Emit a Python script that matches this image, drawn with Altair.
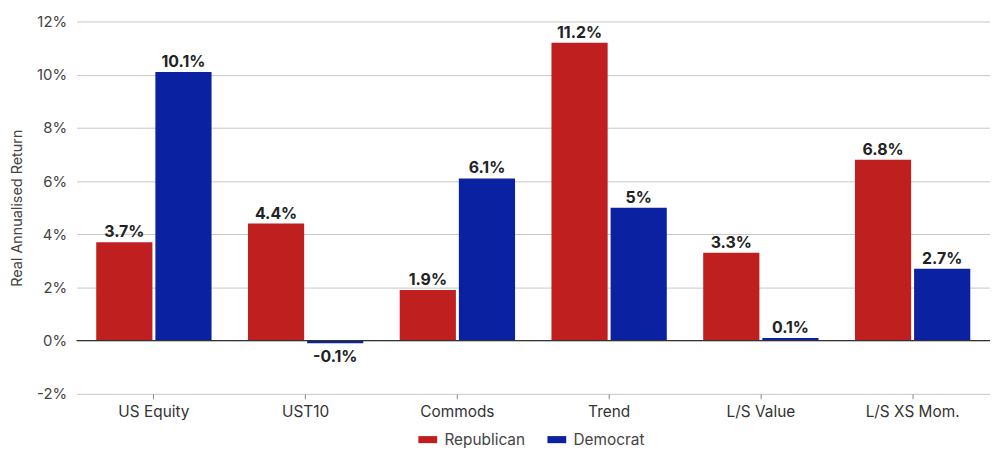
import altair as alt
import pandas as pd

categories = ["US Equity", "UST10", "Commods", "Trend", "L/S Value", "L/S XS Mom."]
republican = [3.7, 4.4, 1.9, 11.2, 3.3, 6.8]
democrat = [10.1, -0.1, 6.1, 5, 0.1, 2.7]
parties = ["Republican", "Democrat"]
colors = ["#C01F20", "#0A22A2"]
y_ticks = [-2, 0, 2, 4, 6, 8, 10, 12]

rows = []
for c, r, d in zip(categories, republican, democrat):
    rows.append({"cat": c, "party": "Republican", "value": r})
    rows.append({"cat": c, "party": "Democrat", "value": d})
df = pd.DataFrame(rows)

FONT = "Inter"

x = alt.X("cat:N", sort=categories, title=None,
          scale=alt.Scale(paddingInner=0.24, paddingOuter=0.13),
          axis=alt.Axis(labelAngle=0, labelFontSize=15.5, labelColor="#333333",
                        labelPadding=6, ticks=True, tickSize=5, tickColor="#888888",
                        domain=False, labelFont=FONT))
xo = alt.XOffset("party:N", sort=parties, scale=alt.Scale(paddingInner=0.05))
y = alt.Y("value:Q", title="Real Annualised Return",
          scale=alt.Scale(domain=[-2, 12], nice=False),
          axis=alt.Axis(values=y_ticks, labelExpr="datum.value + '%'",
                        labelFontSize=15, labelColor="#444444", labelPadding=10,
                        ticks=False, domain=False, gridColor="#C8C8C8",
                        titleFontSize=14.5, titleFontWeight="normal", titleColor="#444444",
                        titlePadding=12, labelFont=FONT, titleFont=FONT))

base = alt.Chart(df)

bars = base.mark_bar().encode(
    x=x, xOffset=xo, y=y,
    color=alt.Color("party:N", sort=parties,
                    scale=alt.Scale(domain=parties, range=colors),
                    legend=alt.Legend(title=None, orient="none", direction="horizontal",
                                      legendX=346, legendY=413,
                                      symbolType="M-1.6,-0.6H1.6V0.6H-1.6Z",
                                      symbolSize=140, symbolStrokeWidth=0,
                                      labelFontSize=15.5, labelColor="#444444",
                                      labelFont=FONT, columnPadding=22, labelOffset=9)),
)

pos_text = base.transform_filter("datum.value >= 0").transform_calculate(
    label="datum.value + '%'").mark_text(
    baseline="alphabetic", dy=-5, fontSize=16, fontWeight="bold", color="#222222", font=FONT
).encode(x=x, xOffset=xo, y=y, text="label:N")

neg_text = base.transform_filter("datum.value < 0").transform_calculate(
    label="datum.value + '%'").mark_text(
    baseline="top", dy=6, fontSize=16, fontWeight="bold", color="#222222", font=FONT
).encode(x=x, xOffset=xo, y=y, text="label:N")

zero = alt.Chart(pd.DataFrame({"z": [0]})).mark_rule(color="#333333", strokeWidth=1.2).encode(
    y=alt.Y("z:Q", scale=alt.Scale(domain=[-2, 12], nice=False)))

chart = alt.layer(bars, zero, pos_text, neg_text).properties(
    width=920, height=375,
    autosize=alt.AutoSizeParams(type="none"),
    padding={"left": 69, "top": 12, "right": 0, "bottom": 57},
).configure_view(stroke=None)

chart.save("out.html", embed_options={"renderer": "svg", "actions": False})
